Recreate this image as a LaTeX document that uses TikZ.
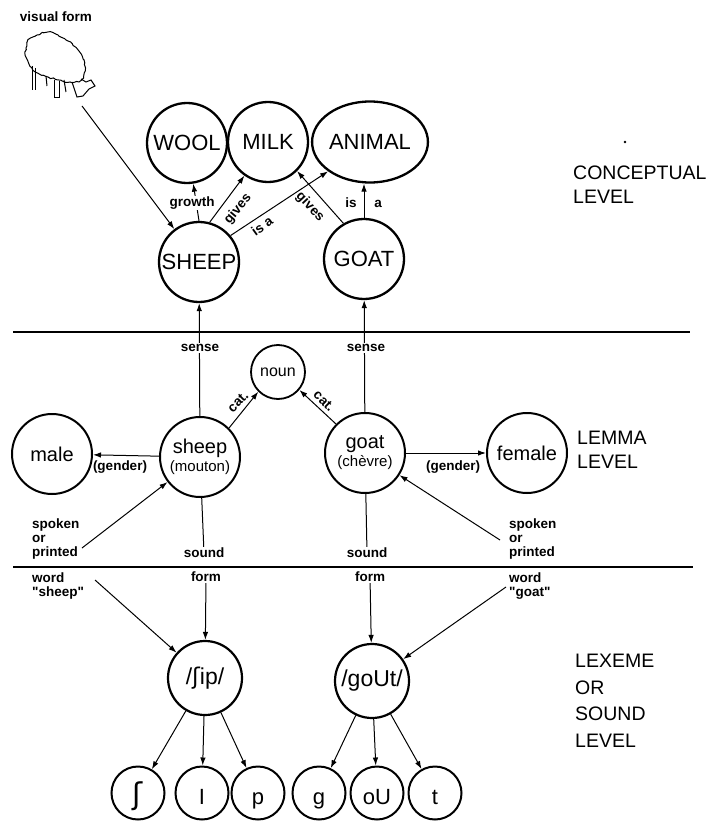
\documentclass[tikz,border=0pt]{standalone}
\usepackage{fontspec}
\setmainfont{Liberation Sans}[Ligatures=TeXOff]
\newfontfamily\ipafont{DejaVu Sans}
\usetikzlibrary{arrows.meta,shapes.geometric,decorations.pathmorphing}
\begin{document}
\begin{tikzpicture}[x=1pt,y=-1pt,
 concept/.style={circle,draw,line width=2.3pt,minimum size=80pt,inner sep=0pt,font=\fontsize{22}{22}\selectfont},
 lemma/.style={circle,draw,line width=2pt,minimum size=80pt,inner sep=0pt,align=center,font=\fontsize{20}{18}\selectfont},
 lexeme/.style={circle,draw,line width=2.2pt,minimum size=74pt,inner sep=0pt,font=\fontsize{23}{23}\selectfont},
 phon/.style={circle,draw,line width=2pt,minimum size=53pt,inner sep=0pt,text height=22pt,text depth=0pt,font=\fontsize{22}{22}\selectfont},
 lab/.style={font=\bfseries\fontsize{13.5}{14}\selectfont,inner sep=1pt},
 multilab/.style={lab,align=left,anchor=west},
 level/.style={font=\fontsize{19.5}{24}\selectfont,align=left,anchor=west,inner sep=0pt},
 arr/.style={-{Latex[length=8pt,width=5.5pt]},line width=1pt},
 conn/.style={line width=1pt},
 sep/.style={line width=1.5pt}
]
\useasboundingbox (0,0) rectangle (715,821);

% ---------- sheep picture ----------
\node[lab] (visual) at (56,17) {visual form};
\draw[line width=1pt,decorate,decoration={random steps,segment length=2.5pt,amplitude=0.9pt}]
  plot[smooth cycle,tension=0.7] coordinates {(26,48) (29,39) (37,35) (48,32) (58,35) (68,41) (78,50) (84,60) (85,71) (81,80) (70,82) (58,80) (48,77) (38,73) (30,66) (26,57)};
\draw[line width=1pt] (32,66) -- (32,90) (35,68) -- (35,90);
\draw[line width=1pt] (46,76) -- (47,86);
\draw[line width=1pt] (54,80) -- (54,98) -- (59,98) -- (59,81);
\draw[line width=1pt] (64,80) -- (66,92);
\draw[line width=1pt] (72,82) -- (77,97) -- (83,96) -- (89,89) -- (95,86) -- (91,80) -- (86,82) -- (81,79);
\coordinate (vis) at (82,106);

% ---------- conceptual level ----------
\node[concept] (WOOL) at (187,143) {WOOL};
\node[concept] (MILK) at (268,142) {MILK};
\node[concept,ellipse,minimum width=97pt,minimum height=81pt] (ANIMAL) at (370,142) {ANIMAL};
\node[concept] (SHEEP) at (199,262) {SHEEP};
\node[concept] (GOAT) at (364,259) {GOAT};
\node[level] (cl) at (573,185) {CONCEPTUAL\\LEVEL};
\fill (625,142) circle (1.3pt);

% ---------- lemma level ----------
\node[lemma] (male) at (52,454) {male};
\node[lemma] (sheepL) at (200,457) {sheep\\{\fontsize{15}{15}\selectfont(mouton)}};
\node[circle,draw,line width=1.8pt,minimum size=54pt,inner sep=0pt,font=\fontsize{16}{16}\selectfont] (noun) at (278,372) {noun};
\node[lemma] (goatL) at (365,453) {goat\\{\fontsize{15}{15}\selectfont(chèvre)}};
\node[lemma] (female) at (527,453) {female};
\node[level] (ll) at (577,450) {LEMMA\\LEVEL};

\node[multilab] (sp1) at (31,539) {spoken\\or\\printed};
\coordinate (sp1a) at (82,548);
\node[multilab] (sp2) at (508,539) {spoken\\or\\printed};
\coordinate (sp2a) at (500,540);
\node[lab] (sound1) at (204,553) {sound};
\node[lab] (sound2) at (367,553) {sound};

% ---------- lexeme level ----------
\node[lab] (form1) at (206,577) {form};
\node[lab] (form2) at (370,577) {form};
\node[multilab] (w1) at (31,586) {word\\"sheep"};
\coordinate (w1a) at (95,580);
\node[multilab] (w2) at (508,586) {word\\"goat"};
\coordinate (w2a) at (506,587);

\node[lexeme] (ship) at (205,678) {/{\ipafont ʃ}ip/};
\node[lexeme] (gout) at (372,681) {/goUt/};
\node[phon] (esh) at (138,793) {\ipafont\fontsize{30}{30}\selectfont ʃ};
\node[phon] (ii) at (202,793) {I};
\node[phon] (pp) at (258,793) {p};
\node[phon] (gg) at (319,793) {g};
\node[phon] (ou) at (377,793) {oU};
\node[phon] (tt) at (435,793) {t};
\node[level,font=\fontsize{19.5}{26.5}\selectfont] (xl) at (575,701) {LEXEME\\OR\\SOUND\\LEVEL};

% ---------- separators ----------
\draw[sep] (13,332) -- (690,332);
\draw[sep] (13,567) -- (693,567);

% ---------- connectors ----------
\draw[arr] (vis) -- (SHEEP);
\draw[arr] (SHEEP.north) -- (WOOL);
\draw[arr] (SHEEP.75) -- (MILK.235);
\draw[arr] (SHEEP.40) -- (ANIMAL.215);
\draw[arr] (GOAT.120) -- (MILK.315);
\draw[arr] (GOAT.north) -- (GOAT.north |- ANIMAL.south);

\draw[arr] (sheepL) -- (SHEEP);
\draw[arr] (goatL) -- (GOAT);
\draw[arr] (sheepL) -- (male);
\draw[arr] (goatL) -- (female);
\draw[arr] (sheepL.45) -- (noun.225);
\draw[arr] (goatL.135) -- (noun.320);
\draw[arr] (sp1a) -- (sheepL);
\draw[arr] (sp2a) -- (goatL);
\draw[conn] (sheepL) -- (sound1);
\draw[conn] (goatL) -- (sound2);

\draw[arr] (form1) -- (ship);
\draw[arr] (form2) -- (gout);
\draw[arr] (w1a) -- (ship);
\draw[arr] (w2a) -- (gout);
\draw[arr] (ship) -- (esh);
\draw[arr] (ship) -- (ii);
\draw[arr] (ship) -- (pp);
\draw[arr] (gout) -- (gg);
\draw[arr] (gout) -- (ou);
\draw[arr] (gout) -- (tt);

% ---------- edge labels ----------
\node[lab,fill=white] (growth) at (192,203) {growth};
\node[lab,rotate=50] (gives1) at (238,209) {gives};
\node[lab,rotate=36] (isa1) at (262,226) {is a};
\node[lab,rotate=-47] (gives2) at (310,207) {gives};
\node[lab] (is2) at (351,203) {is};
\node[lab] (a2) at (378,204) {a};
\node[lab,fill=white] (sense1) at (200,348) {sense};
\node[lab,fill=white] (sense2) at (366,348) {sense};
\node[lab,rotate=45] (cat1) at (238,402) {cat.};
\node[lab,rotate=-45] (cat2) at (324,401) {cat.};
\node[lab] (gen1) at (120,467) {(gender)};
\node[lab] (gen2) at (453,467) {(gender)};
\end{tikzpicture}
\end{document}
